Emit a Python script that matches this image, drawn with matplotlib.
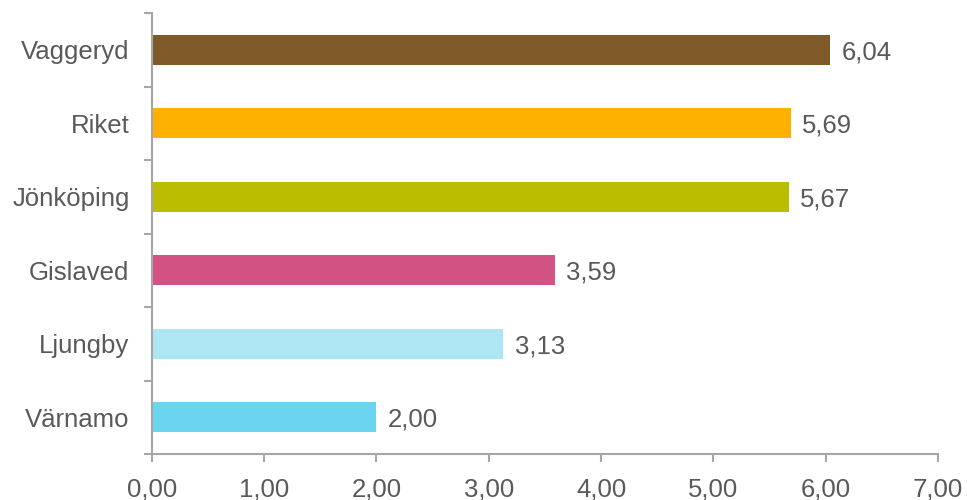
import numpy as np
import matplotlib.pyplot as plt

plt.rcParams['font.family'] = ['Liberation Sans', 'DejaVu Sans']

categories = ["Värnamo", "Ljungby", "Gislaved", "Jönköping", "Riket", "Vaggeryd"]
values = [2.00, 3.13, 3.59, 5.67, 5.69, 6.04]
colors = ["#6BD4EE", "#AEE6F4", "#D25383", "#BBBD00", "#FFB000", "#7F5A28"]
xticks = [0, 1, 2, 3, 4, 5, 6, 7]

txt = "#595959"
axcol = "#A6A6A6"
fs = 18.5

fig = plt.figure(figsize=(9.67, 5), dpi=100)
ax = fig.add_axes([0.157, 0.092, 0.813, 0.882])

y = np.arange(len(categories))
ax.barh(y, values, height=0.41, color=colors)

# value labels next to each bar
for yi, v in zip(y, values):
    ax.text(v + 0.1, yi, f"{v:.2f}".replace(".", ","), va="center_baseline", ha="left",
            fontsize=fs, color=txt)

ax.set_xlim(0, 7)
ax.set_ylim(-0.5, len(categories) - 0.5)
ax.set_xticks(xticks)
ax.set_xticklabels([f"{t:.2f}".replace(".", ",") for t in xticks])
ax.set_yticks(y)
ax.set_yticklabels(categories)
ax.set_yticks(np.arange(-0.5, len(categories)), minor=True)

ax.tick_params(axis="y", which="major", length=0, pad=16, labelsize=fs, labelcolor=txt)
ax.tick_params(axis="y", which="minor", length=6, width=1.5, color=axcol)
ax.tick_params(axis="x", length=6, width=1.5, color=axcol, labelsize=fs, labelcolor=txt, pad=11)

for s in ["top", "right"]:
    ax.spines[s].set_visible(False)
for s in ["left", "bottom"]:
    ax.spines[s].set_color(axcol)
    ax.spines[s].set_linewidth(1.5)

fig.savefig("out.png", dpi=100)
